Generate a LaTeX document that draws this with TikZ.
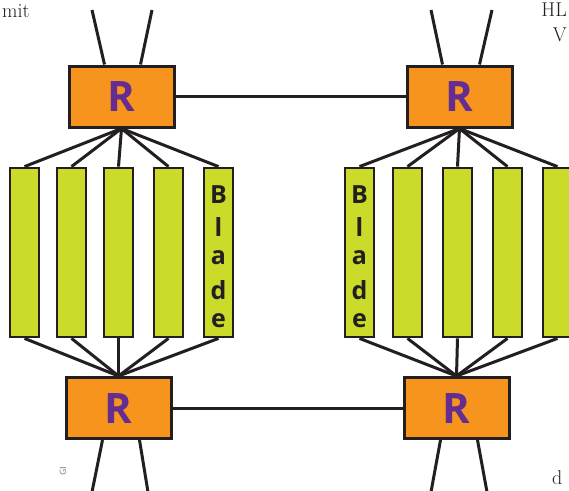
\documentclass[tikz,border=0pt]{standalone}
\usepackage{fontspec}
\newfontfamily\labelfont{Open Sans}
\definecolor{routerorange}{HTML}{F7941D}
\definecolor{routerpurple}{HTML}{662D91}
\definecolor{bladegreen}{HTML}{CBDB2A}
\definecolor{ink}{HTML}{231F20}
\tikzset{
  router/.style={draw=ink, line width=3pt, fill=routerorange, minimum width=105pt, minimum height=61pt, inner sep=0pt,
    text=routerpurple, font=\labelfont\bfseries\fontsize{42}{42}\selectfont},
  bladebox/.style={draw=ink, line width=2.8pt, fill=bladegreen, minimum width=29pt, minimum height=169pt, inner sep=0pt},
  link/.style={draw=ink, line width=3pt},
  bladeletter/.style={font=\labelfont\bfseries\fontsize{25}{25}\selectfont, text=ink, inner sep=0pt},
  fragment/.style={font=\fontsize{20}{20}\selectfont, text=ink, inner sep=0pt}
}
\begin{document}
\begin{tikzpicture}[x=1pt, y=-1pt]
\useasboundingbox (0,0) rectangle (569,490);
\clip (0,0) rectangle (569,490);

% routers
\node[router] (rtl) at (121.5,96.5) {R};
\node[router] (rtr) at (459.5,96.5) {R};
\node[router] (rbl) at (118.5,408) {R};
\node[router] (rbr) at (456.5,408) {R};

% blades, left rack
\foreach \i/\x in {1/24.5, 2/71.5, 3/118.5, 4/168.5, 5/218.5}
  \node[bladebox] (l\i) at (\x,252.5) {};
% blades, right rack
\foreach \i/\x in {1/359.5, 2/407.5, 3/457.5, 4/507.5, 5/557.5}
  \node[bladebox] (r\i) at (\x,252.5) {};

% blade labels, one letter per row
\foreach \y/\c in {195/B, 227/l, 258/a, 290/d, 321/e} {
  \node[bladeletter] at (l5.north |- 0,\y) {\c};
  \node[bladeletter] at (r1.north |- 0,\y) {\c};
}

% router links
\draw[link] (rtl) -- (rtr);
\draw[link] (rbl) -- (rbr);

% fan-out from routers to blades
\foreach \i in {1,...,5} {
  \draw[link] (rtl.south) -- (l\i.north);
  \draw[link] (rbl.north) -- (l\i.south);
  \draw[link] (rtr.south) -- (r\i.north);
  \draw[link] (rbr.north) -- (r\i.south);
}

% uplinks and downlinks leaving the picture
\coordinate (tl1) at (92,10);  \coordinate (tl2) at (152,10);
\coordinate (tr1) at (431,10); \coordinate (tr2) at (492,10);
\coordinate (bl1) at (92,492); \coordinate (bl2) at (148,492);
\coordinate (br1) at (431,492); \coordinate (br2) at (487,492);
\draw[link] ([xshift=-17pt]rtl.north) -- (tl1);
\draw[link] ([xshift=19pt]rtl.north) -- (tl2);
\draw[link] ([xshift=-17pt]rtr.north) -- (tr1);
\draw[link] ([xshift=20pt]rtr.north) -- (tr2);
\draw[link] ([xshift=-16pt]rbl.south) -- (bl1);
\draw[link] ([xshift=21pt]rbl.south) -- (bl2);
\draw[link] ([xshift=-16pt]rbr.south) -- (br1);
\draw[link] ([xshift=21pt]rbr.south) -- (br2);

% surrounding text fragments
\node[fragment, anchor=base west] (fmit) at (2,17) {mit};
\node[fragment, anchor=base east] (fhl) at (567,16) {HL};
\node[fragment, anchor=base east] (fv) at (567,41) {V};
\node[fragment, anchor=base west] (fd) at (552,484) {d};
\node[font=\sffamily\fontsize{9}{9}\selectfont, text=ink!60, rotate=90, anchor=base west, inner sep=0pt] (fgi) at (66,476) {GI};
\end{tikzpicture}
\end{document}
